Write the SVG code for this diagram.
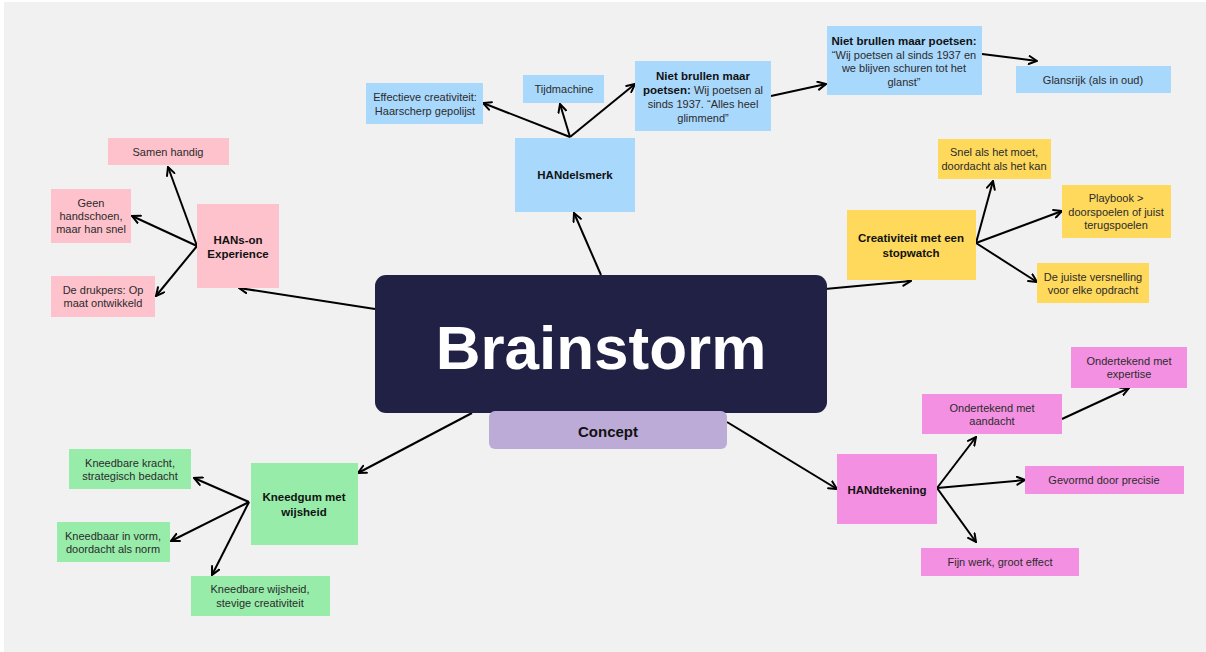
<svg xmlns="http://www.w3.org/2000/svg" width="1206" height="652" viewBox="0 0 1206 652">
<style>
  text { font-family: "Liberation Sans", Arial, sans-serif; font-size: 11px; fill: #2b2b2b; text-anchor: middle; dominant-baseline: central; }
  .b { font-weight: bold; fill: #111; font-size: 11.5px; }
  .blue { fill: #a9d8fd; }
  .pink { fill: #fec2cc; }
  .yel { fill: #fed95c; }
  .grn { fill: #97eca9; }
  .mag { fill: #f390e1; }
  .conn line { stroke: #000; stroke-width: 2; marker-end: url(#arr); }
</style>
<defs>
  <marker id="arr" viewBox="0 0 10 10" refX="9" refY="5" markerWidth="10" markerHeight="10" markerUnits="userSpaceOnUse" orient="auto">
    <path d="M1,1 L9,5 L1,9" fill="none" stroke="#000" stroke-width="2" stroke-linecap="round" stroke-linejoin="miter"/>
  </marker>
</defs>
<rect x="0" y="0" width="1206" height="652" fill="#ffffff"/>
<rect x="4" y="2" width="1202" height="650" fill="#f1f1f1"/>

<g class="conn" id="connectors">
  <line x1="601" y1="275" x2="574" y2="213"/>
  <line x1="570" y1="137" x2="483" y2="103"/>
  <line x1="570" y1="137" x2="560" y2="104"/>
  <line x1="570" y1="137" x2="635" y2="84"/>
  <line x1="771" y1="96" x2="826" y2="84"/>
  <line x1="982" y1="54" x2="1037" y2="61"/>
  <line x1="375" y1="309" x2="239" y2="288"/>
  <line x1="197" y1="246" x2="168" y2="167"/>
  <line x1="197" y1="246" x2="132" y2="216"/>
  <line x1="197" y1="246" x2="156" y2="296"/>
  <line x1="825" y1="289" x2="911" y2="281"/>
  <line x1="976" y1="243" x2="993" y2="181"/>
  <line x1="976" y1="243" x2="1062" y2="211"/>
  <line x1="976" y1="243" x2="1037" y2="282"/>
  <line x1="472" y1="413" x2="358" y2="473"/>
  <line x1="249" y1="502" x2="194" y2="478"/>
  <line x1="249" y1="502" x2="171" y2="541"/>
  <line x1="249" y1="502" x2="212" y2="575"/>
  <line x1="727" y1="422" x2="837" y2="489"/>
  <line x1="937" y1="488" x2="976" y2="437"/>
  <line x1="937" y1="488" x2="1025" y2="480"/>
  <line x1="937" y1="488" x2="976" y2="542"/>
  <line x1="1062" y1="419" x2="1129" y2="388"/>
</g>

<g id="brainstorm">
  <rect x="375" y="275" width="452" height="138" rx="11" fill="#212145"/>
  <text x="601" y="347" style="font-size:62px;font-weight:bold;fill:#ffffff">Brainstorm</text>
</g>
<g id="concept">
  <rect x="489" y="411" width="238" height="38" rx="6" fill="#bcaad7"/>
  <text x="608" y="431" class="b" style="font-size:15px">Concept</text>
</g>

<g id="handelsmerk">
  <rect x="515" y="138" width="120" height="74" class="blue"/>
  <text x="575" y="175" class="b">HANdelsmerk</text>
</g>
<g id="effectieve">
  <rect x="366" y="83" width="117" height="41" class="blue"/>
  <text x="425" y="97">Effectieve creativiteit:</text>
  <text x="425" y="111">Haarscherp gepolijst</text>
</g>
<g id="tijdmachine">
  <rect x="523" y="75" width="81" height="28" class="blue"/>
  <text x="564" y="89">Tijdmachine</text>
</g>
<g id="poetsen1">
  <rect x="635" y="61" width="136" height="70" class="blue"/>
  <text x="703" y="76" class="b">Niet brullen maar</text>
  <text x="703" y="90"><tspan class="b">poetsen:</tspan> Wij poetsen al</text>
  <text x="703" y="104">sinds 1937. “Alles heel</text>
  <text x="703" y="118">glimmend”</text>
</g>
<g id="poetsen2">
  <rect x="827" y="26" width="155" height="69" class="blue"/>
  <text x="904" y="41" class="b">Niet brullen maar poetsen:</text>
  <text x="904" y="55">“Wij poetsen al sinds 1937 en</text>
  <text x="904" y="68">we blijven schuren tot het</text>
  <text x="904" y="82">glanst”</text>
</g>
<g id="glansrijk">
  <rect x="1016" y="66" width="155" height="27" class="blue"/>
  <text x="1093" y="80">Glansrijk (als in oud)</text>
</g>

<g id="hanson">
  <rect x="197" y="204" width="82" height="84" class="pink"/>
  <text x="238" y="240" class="b">HANs-on</text>
  <text x="238" y="254" class="b">Experience</text>
</g>
<g id="samen">
  <rect x="108" y="138" width="121" height="27" class="pink"/>
  <text x="168" y="152">Samen handig</text>
</g>
<g id="geen">
  <rect x="51" y="189" width="80" height="54" class="pink"/>
  <text x="91" y="203">Geen</text>
  <text x="91" y="216">handschoen,</text>
  <text x="91" y="229">maar han snel</text>
</g>
<g id="drukpers">
  <rect x="51" y="276" width="104" height="41" class="pink"/>
  <text x="103" y="290">De drukpers: Op</text>
  <text x="103" y="303">maat ontwikkeld</text>
</g>

<g id="creativiteit">
  <rect x="847" y="210" width="129" height="70" class="yel"/>
  <text x="911" y="238" class="b">Creativiteit met een</text>
  <text x="911" y="253" class="b">stopwatch</text>
</g>
<g id="snel">
  <rect x="938" y="139" width="113" height="40" class="yel"/>
  <text x="994" y="152">Snel als het moet,</text>
  <text x="994" y="166">doordacht als het kan</text>
</g>
<g id="playbook">
  <rect x="1062" y="185" width="109" height="53" class="yel"/>
  <text x="1116" y="198">Playbook &gt;</text>
  <text x="1116" y="212">doorspoelen of juist</text>
  <text x="1116" y="225">terugspoelen</text>
</g>
<g id="versnelling">
  <rect x="1037" y="263" width="112" height="40" class="yel"/>
  <text x="1093" y="277">De juiste versnelling</text>
  <text x="1093" y="290">voor elke opdracht</text>
</g>

<g id="kneedgum">
  <rect x="251" y="463" width="107" height="82" class="grn"/>
  <text x="304" y="497" class="b">Kneedgum met</text>
  <text x="304" y="512" class="b">wijsheid</text>
</g>
<g id="kracht">
  <rect x="69" y="449" width="122" height="40" class="grn"/>
  <text x="130" y="463">Kneedbare kracht,</text>
  <text x="130" y="476">strategisch bedacht</text>
</g>
<g id="vorm">
  <rect x="57" y="522" width="113" height="40" class="grn"/>
  <text x="113" y="536">Kneedbaar in vorm,</text>
  <text x="113" y="549">doordacht als norm</text>
</g>
<g id="wijsheid">
  <rect x="191" y="576" width="139" height="40" class="grn"/>
  <text x="260" y="589">Kneedbare wijsheid,</text>
  <text x="260" y="603">stevige creativiteit</text>
</g>

<g id="handtekening">
  <rect x="837" y="454" width="100" height="70" class="mag"/>
  <text x="887" y="490" class="b">HANdtekening</text>
</g>
<g id="aandacht">
  <rect x="922" y="394" width="140" height="40" class="mag"/>
  <text x="992" y="408">Ondertekend met</text>
  <text x="992" y="421">aandacht</text>
</g>
<g id="expertise">
  <rect x="1071" y="347" width="116" height="41" class="mag"/>
  <text x="1129" y="361">Ondertekend met</text>
  <text x="1129" y="374">expertise</text>
</g>
<g id="precisie">
  <rect x="1025" y="466" width="159" height="28" class="mag"/>
  <text x="1104" y="480">Gevormd door precisie</text>
</g>
<g id="fijn">
  <rect x="921" y="548" width="158" height="28" class="mag"/>
  <text x="1000" y="562">Fijn werk, groot effect</text>
</g>
</svg>
